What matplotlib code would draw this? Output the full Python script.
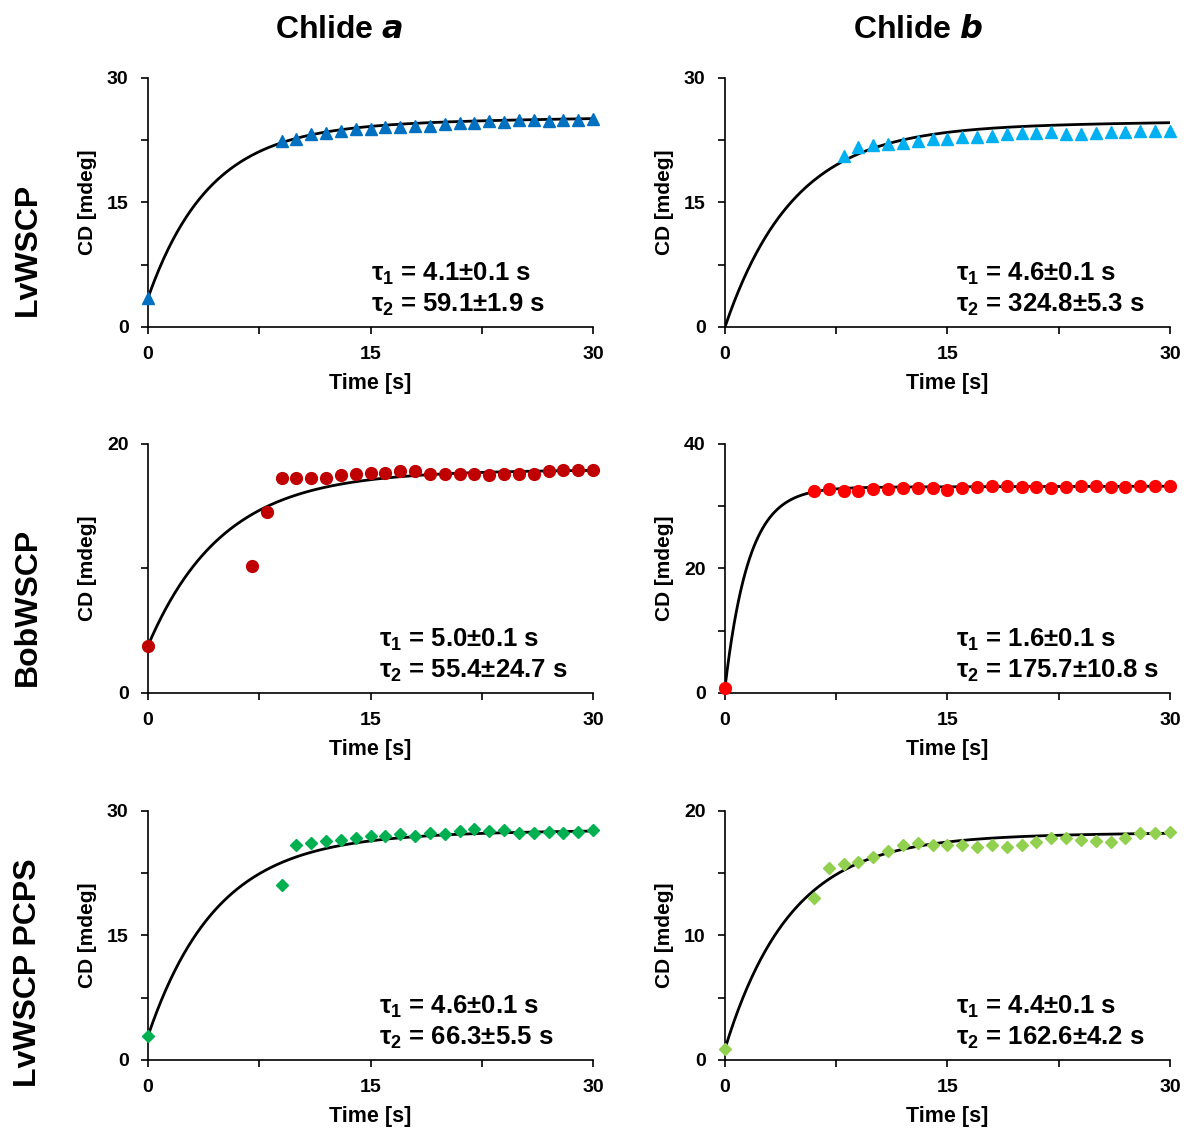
import numpy as np
import matplotlib.pyplot as plt

plt.rcParams['font.family'] = ['Liberation Sans', 'DejaVu Sans']
plt.rcParams['font.weight'] = 'bold'
plt.rcParams['mathtext.default'] = 'regular'

# measured CD signal [mdeg] vs time [s]
t_lv_a = [0, 9, 10, 11, 12, 13, 14, 15, 16, 17, 18, 19, 20, 21, 22, 23, 24, 25, 26, 27, 28, 29, 30]
cd_lv_a = [3.5, 22.4, 22.7, 23.2, 23.4, 23.6, 23.8, 23.8, 24.1, 24.1, 24.2, 24.2, 24.4, 24.6, 24.6,
           24.8, 24.7, 24.9, 24.9, 24.8, 24.9, 24.9, 25.0]

t_lv_b = [8, 9, 10, 11, 12, 13, 14, 15, 16, 17, 18, 19, 20, 21, 22, 23, 24, 25, 26, 27, 28, 29, 30]
cd_lv_b = [20.6, 21.7, 21.9, 22.1, 22.2, 22.4, 22.6, 22.7, 22.9, 22.9, 23.0, 23.2, 23.4, 23.4, 23.5,
           23.3, 23.2, 23.4, 23.5, 23.5, 23.6, 23.6, 23.6]

t_bob_a = [0, 7, 8, 9, 10, 11, 12, 13, 14, 15, 16, 17, 18, 19, 20, 21, 22, 23, 24, 25, 26, 27, 28, 29, 30]
cd_bob_a = [3.8, 10.2, 14.5, 17.3, 17.3, 17.3, 17.3, 17.5, 17.6, 17.7, 17.7, 17.8, 17.8, 17.6, 17.6,
            17.6, 17.6, 17.5, 17.6, 17.6, 17.6, 17.8, 17.9, 17.9, 17.9]

t_bob_b = [0, 6, 7, 8, 9, 10, 11, 12, 13, 14, 15, 16, 17, 18, 19, 20, 21, 22, 23, 24, 25, 26, 27, 28, 29, 30]
cd_bob_b = [0.85, 32.5, 32.7, 32.5, 32.5, 32.7, 32.7, 32.9, 32.9, 32.9, 32.6, 32.9, 33.1, 33.3, 33.2,
            33.1, 33.1, 32.9, 33.1, 33.2, 33.2, 33.1, 33.1, 33.2, 33.2, 33.3]

t_pcps_a = [0, 9, 10, 11, 12, 13, 14, 15, 16, 17, 18, 19, 20, 21, 22, 23, 24, 25, 26, 27, 28, 29, 30]
cd_pcps_a = [2.9, 21.1, 25.9, 26.1, 26.4, 26.5, 26.7, 27.0, 27.0, 27.2, 27.0, 27.3, 27.2, 27.6, 27.8,
             27.6, 27.7, 27.4, 27.4, 27.5, 27.4, 27.5, 27.7]

t_pcps_b = [0, 6, 7, 8, 9, 10, 11, 12, 13, 14, 15, 16, 17, 18, 19, 20, 21, 22, 23, 24, 25, 26, 27, 28, 29, 30]
cd_pcps_b = [0.9, 13.0, 15.4, 15.7, 15.9, 16.3, 16.8, 17.3, 17.4, 17.3, 17.3, 17.3, 17.1, 17.3, 17.1,
             17.3, 17.5, 17.8, 17.8, 17.7, 17.6, 17.5, 17.8, 18.2, 18.2, 18.3]

# biexponential fits: y0, A1, tau1, err1, A2, tau2, err2
fit_lv_a = (3.5, 20.65, 4.1, 0.1, 2.42, 59.1, 1.9)
fit_lv_b = (0.0, 24.08, 4.6, 0.1, 6.35, 324.8, 5.3)
fit_bob_a = (3.8, 13.9, 5.0, 0.1, 0.5, 55.4, 24.7)
fit_bob_b = (0.85, 32.17, 1.6, 0.1, 1.17, 175.7, 10.8)
fit_pcps_a = (2.9, 24.04, 4.6, 0.1, 1.85, 66.3, 5.5)
fit_pcps_b = (0.9, 17.0, 4.4, 0.1, 1.92, 162.6, 4.2)

col_titles = ['Chlide $\\it{a}$', 'Chlide $\\it{b}$']
row_titles = ['LvWSCP', 'BobWSCP', 'LvWSCP PCPS']

panels = [
    # (t, cd, fit, marker, size, color, yticks, yticklabels, text x)
    (t_lv_a, cd_lv_a, fit_lv_a, '^', 9, '#0070C0', [0, 7.5, 15, 22.5, 30], ['0', '', '15', '', '30'], 0.50),
    (t_lv_b, cd_lv_b, fit_lv_b, '^', 9, '#00B0F0', [0, 7.5, 15, 22.5, 30], ['0', '', '15', '', '30'], 0.52),
    (t_bob_a, cd_bob_a, fit_bob_a, 'o', 8.5, '#C00000', [0, 10, 20], ['0', '', '20'], 0.52),
    (t_bob_b, cd_bob_b, fit_bob_b, 'o', 8.5, '#FF0000', [0, 10, 20, 30, 40], ['0', '', '20', '', '40'], 0.52),
    (t_pcps_a, cd_pcps_a, fit_pcps_a, 'D', 6.5, '#00B050', [0, 7.5, 15, 22.5, 30], ['0', '', '15', '', '30'], 0.52),
    (t_pcps_b, cd_pcps_b, fit_pcps_b, 'D', 6.5, '#92D050', [0, 5, 10, 15, 20], ['0', '', '10', '', '20'], 0.52),
]

fig = plt.figure(figsize=(11.86, 11.31), dpi=100)
lefts = [0.1248, 0.6113]
bottoms = [0.7109, 0.3873, 0.0628]

tt = np.linspace(0, 30, 400)
for i, (t, cd, fit, mk, ms, color, yt, ytl, tx) in enumerate(panels):
    row, col = divmod(i, 2)
    ax = fig.add_axes([lefts[col], bottoms[row], 0.3752, 0.2202])
    y0, a1, tau1, e1, a2, tau2, e2 = fit
    curve = y0 + a1 * (1 - np.exp(-tt / tau1)) + a2 * (1 - np.exp(-tt / tau2))
    ax.plot(tt, curve, color='black', lw=2.0, zorder=2)
    ax.plot(t, cd, ls='none', marker=mk, ms=ms, color=color, mec=color, clip_on=False, zorder=3)

    ax.set_xlim(0, 30)
    ax.set_ylim(yt[0], yt[-1])
    ax.set_xticks([0, 7.5, 15, 22.5, 30])
    ax.set_xticklabels(['0', '', '15', '', '30'])
    ax.set_yticks(yt)
    ax.set_yticklabels(ytl)
    for s in ['top', 'right']:
        ax.spines[s].set_visible(False)
    for s in ['left', 'bottom']:
        ax.spines[s].set_linewidth(1.2)
    ax.tick_params(direction='out', length=5, width=1.2, labelsize=14, pad=9)
    ax.set_xlabel('Time [s]', fontsize=15.5, fontweight='bold', labelpad=7)
    ax.set_ylabel('CD [mdeg]', fontsize=15, fontweight='bold', labelpad=7)

    ax.text(tx, 0.215, 'τ$_1$ = %.1f±%.1f s' % (tau1, e1), transform=ax.transAxes,
            fontsize=18.5, fontweight='bold', va='center', ha='left')
    ax.text(tx, 0.09, 'τ$_2$ = %.1f±%.1f s' % (tau2, e2), transform=ax.transAxes,
            fontsize=18.5, fontweight='bold', va='center', ha='left')

fig.text(339 / 1186, 1 - 30 / 1131, col_titles[0], fontsize=23, fontweight='bold', ha='center', va='center')
fig.text(918 / 1186, 1 - 30 / 1131, col_titles[1], fontsize=23, fontweight='bold', ha='center', va='center')
for y, name in zip([249, 607, 973], row_titles):
    fig.text(28 / 1186, 1 - y / 1131, name, fontsize=23, fontweight='bold',
             rotation=90, ha='center', va='center')

fig.savefig('out.png', dpi=100)
